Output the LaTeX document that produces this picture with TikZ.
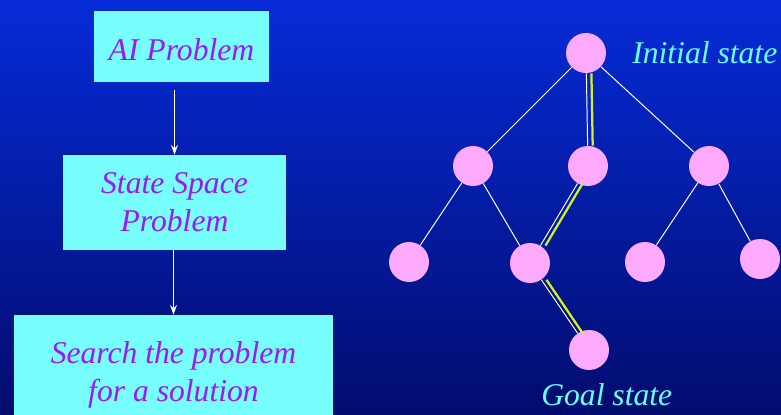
\documentclass[tikz,border=0pt]{standalone}
\usepackage{fontspec}
\setmainfont{Liberation Serif}
\usetikzlibrary{arrows.meta}
\definecolor{bgtop}{HTML}{062CD8}
\definecolor{bgbot}{HTML}{020C6E}
\definecolor{box}{HTML}{77FFFF}
\definecolor{boxtxt}{HTML}{9A1AF0}
\definecolor{state}{HTML}{FFAAFF}
\definecolor{path}{HTML}{D4F21C}
\definecolor{lbl}{HTML}{66FFFF}

\begin{document}
\begin{tikzpicture}[x=0.025cm, y=-0.025cm,
  stepbox/.style={fill=box, text=boxtxt, inner sep=0pt, align=center,
                  font=\fontsize{22.5}{27}\selectfont\itshape},
  st/.style={circle, fill=state, minimum size=1cm, inner sep=0pt},
  edge/.style={white, line width=0.7pt},
  hilite/.style={path, line width=1.6pt, transform canvas={xshift=3.6pt}},
  flow/.style={white, line width=1pt, -{Stealth[length=7pt,width=5pt,inset=2.5pt]}},
  lab/.style={text=lbl, anchor=base west, inner sep=0pt,
              font=\fontsize{22.5}{27}\selectfont\itshape}]
  \shade[top color=bgtop, bottom color=bgbot] (0,0) rectangle (781,414);
  \useasboundingbox (0,0) rectangle (781,414);
  \clip (0,0) rectangle (781,414);
  % problem steps
  \node[stepbox, minimum width=4.375cm, minimum height=1.775cm,
        text height=20pt, text depth=0pt] (ai) at (181.5,46.5) {AI Problem};
  \node[stepbox, minimum width=5.575cm, minimum height=2.375cm] (ss) at (174.5,202.5) {State Space\\Problem};
  \node[stepbox, minimum width=7.975cm, minimum height=3cm] (srch) at (173.5,375) {Search the problem\\for a solution};
  \draw[flow, shorten <=5.5pt] (ai.south -| ss) -- (ss.north);
  \draw[flow] (ss.south -| srch) -- (srch.north);
  % search tree
  \node[st] (r)  at (586,53)  {};
  \node[st] (a)  at (473,166) {};
  \node[st] (b)  at (588,166) {};
  \node[st] (c)  at (709,166) {};
  \node[st] (aa) at (409,262) {};
  \node[st] (ab) at (530,263) {};
  \node[st] (ca) at (645,262) {};
  \node[st] (cb) at (760,259) {};
  \node[st] (g)  at (589,350) {};
  \draw[edge] (r)--(a);
  \draw[edge] (r)--(b);
  \draw[edge] (r)--(c);
  \draw[edge] (a)--(aa);
  \draw[edge] (a)--(ab);
  \draw[edge] (b)--(ab);
  \draw[edge] (c)--(ca);
  \draw[edge] (c)--(cb);
  \draw[edge] (ab)--(g);
  \draw[hilite] (r)--(b);
  \draw[hilite] (b)--(ab);
  \draw[hilite] (ab)--(g);
  \node[lab] (init) at (632,63)  {Initial state};
  \node[lab] (goal) at (541,405) {Goal state};
\end{tikzpicture}
\end{document}
